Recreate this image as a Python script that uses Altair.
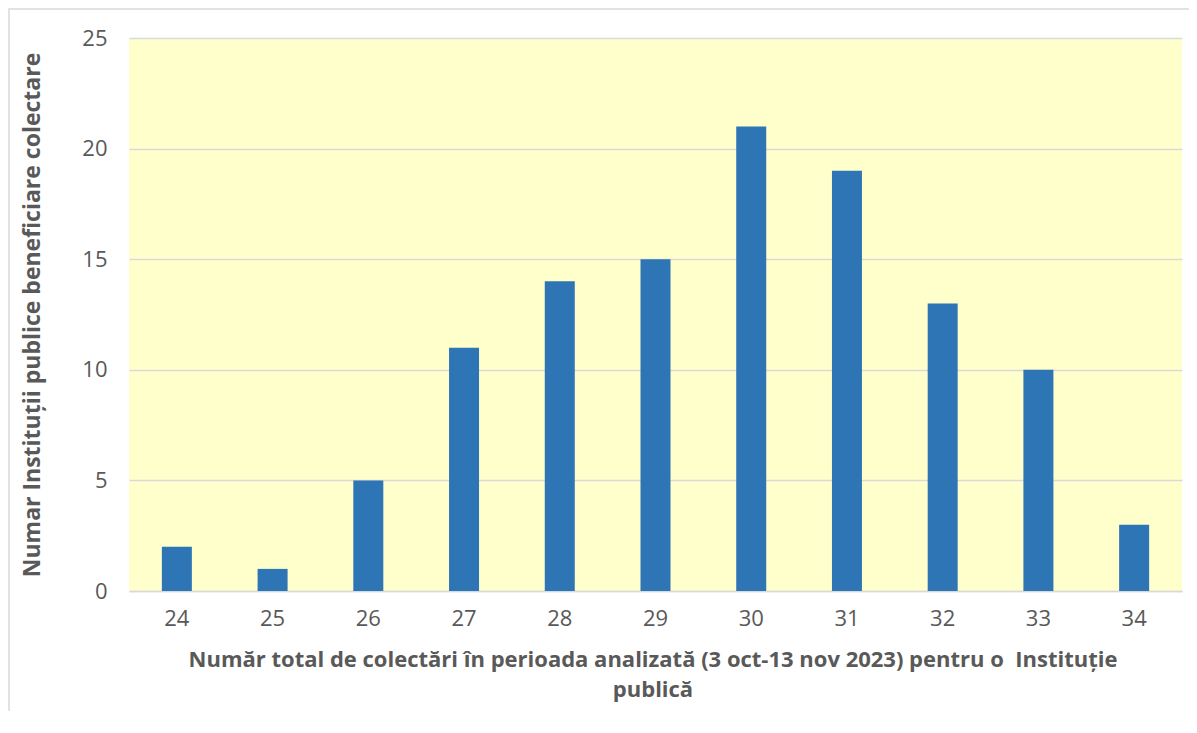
import altair as alt
import pandas as pd

categories = ["24", "25", "26", "27", "28", "29", "30", "31", "32", "33", "34"]
values = [2, 1, 5, 11, 14, 15, 21, 19, 13, 10, 3]
y_ticks = [0, 5, 10, 15, 20, 25]

x_title = ["Număr total de colectări în perioada analizată (3 oct-13 nov 2023) pentru o\u00a0 Instituție", "publică"]
y_title = "Numar Instituții publice beneficiare colectare"

df = pd.DataFrame({"cat": categories, "val": values})

FONT = "Open Sans"
GRAY = "#595959"
W, H = 1053, 553

border = alt.Chart(pd.DataFrame({"a": [0]})).mark_rect(
    fill=None, stroke="#D9D9D9", strokeWidth=1.5, clip=False
).encode(
    x=alt.value(-120), x2=alt.value(1080),
    y=alt.value(-29), y2=alt.value(720),
)

bars = alt.Chart(df).mark_bar(size=30, color="#2E75B6").encode(
    x=alt.X("cat:O", sort=categories,
            scale=alt.Scale(paddingInner=0, paddingOuter=0),
            axis=alt.Axis(title=x_title, labelAngle=0, ticks=False,
                          domainColor="#D9D9D9", domainWidth=1.5,
                          labelPadding=17, labelFontSize=22, labelColor=GRAY,
                          labelFont=FONT,
                          titleFont=FONT, titleFontSize=22, titleFontWeight="bold",
                          titleColor=GRAY, titleLineHeight=30,
                          titleX=W / 2 - 3, titleY=58, titleAlign="center",
                          titleBaseline="top")),
    y=alt.Y("val:Q", scale=alt.Scale(domain=[0, 25], nice=False),
            axis=alt.Axis(values=y_ticks, title=y_title, domain=False, ticks=False,
                          grid=True, gridColor="#D9D9D9", gridWidth=1.5,
                          labelPadding=22, labelFontSize=22, labelColor=GRAY,
                          labelFont=FONT,
                          titleFont=FONT, titleFontSize=23, titleFontWeight="bold",
                          titleColor=GRAY, titleAngle=-90,
                          titleX=-97, titleY=H / 2, titleAlign="center",
                          titleBaseline="middle")),
)

chart = alt.layer(border, bars).properties(
    width=W, height=H,
    padding={"left": 121, "top": 30, "right": 7, "bottom": 120},
    autosize=alt.AutoSizeParams(type="none"),
    background="white",
).configure_view(fill="#FFFFCC", stroke=None)

chart.save("out.html", embed_options={"renderer": "svg", "actions": False})
